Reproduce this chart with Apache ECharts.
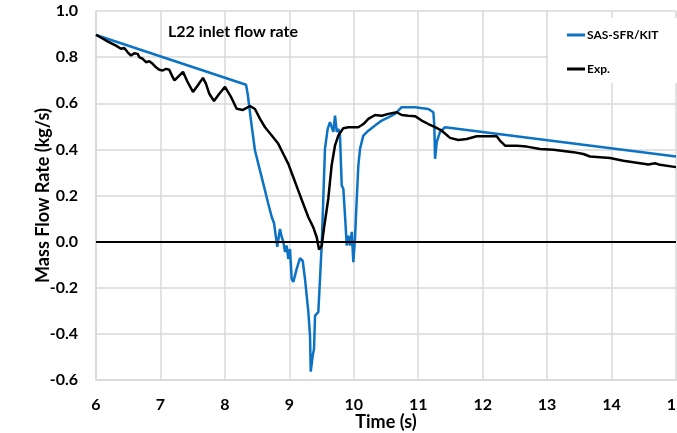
<!DOCTYPE html>
<html>
<head>
<meta charset="utf-8">
<script src="https://cdn.jsdelivr.net/npm/echarts@6/dist/echarts.min.js"></script>
<style>
  html, body { margin: 0; padding: 0; background: #fff; }
  #chart { width: 677px; height: 433px; }
</style>
</head>
<body>
<div id="chart"></div>
<script>
// SAS-SFR/KIT calculation: time (s) and L22 inlet mass flow rate (kg/s)
const sasTime = [6.000, 8.328, 8.354, 8.405, 8.467, 8.545, 8.623, 8.674, 8.727, 8.762, 8.813, 8.855, 8.882,
  8.907, 8.933, 8.959, 8.984, 9.010, 9.037, 9.062, 9.114, 9.166, 9.208, 9.243, 9.295, 9.321, 9.332,
  9.363, 9.383, 9.399, 9.425, 9.450, 9.476, 9.502, 9.527, 9.553, 9.595, 9.631, 9.658, 9.683, 9.709,
  9.736, 9.761, 9.786, 9.802, 9.813, 9.838, 9.864, 9.891, 9.916, 9.942, 9.969, 9.993, 10.019, 10.046,
  10.071, 10.097, 10.148, 10.226, 10.330, 10.434, 10.536, 10.640, 10.744, 10.846, 10.950, 11.157,
  11.235, 11.250, 11.261, 11.288, 11.338, 11.416, 15.000];
const sasFlow = [0.896, 0.680, 0.640, 0.525, 0.395, 0.308, 0.221, 0.163, 0.107, 0.081, -0.023, 0.055, 0.020,
  -0.001, -0.045, -0.017, -0.075, -0.032, -0.162, -0.175, -0.118, -0.072, -0.084, -0.162, -0.305, -0.408, -0.564,
  -0.494, -0.465, -0.321, -0.314, -0.305, -0.162, -0.017, 0.185, 0.402, 0.489, 0.518, 0.525, 0.476, 0.546,
  0.476, 0.489, 0.460, 0.330, 0.243, 0.229, 0.113, -0.017, 0.026, -0.017, 0.042, -0.089, 0.012, 0.185,
  0.330, 0.402, 0.460, 0.481, 0.503, 0.525, 0.539, 0.554, 0.583, 0.583, 0.583, 0.575,
  0.561, 0.503, 0.359, 0.432, 0.476, 0.496, 0.369];

// Experiment: time (s) and measured mass flow rate (kg/s)
const expTime = [6.000, 6.155, 6.310, 6.388, 6.439, 6.492, 6.543, 6.594, 6.647, 6.672, 6.725, 6.776, 6.827,
  6.880, 6.931, 6.982, 7.035, 7.086, 7.137, 7.190, 7.218, 7.272, 7.350, 7.423, 7.505, 7.578, 7.660,
  7.707, 7.758, 7.831, 7.910, 8.002, 8.090, 8.183, 8.281, 8.390, 8.467, 8.545, 8.623, 8.727, 8.829,
  8.907, 8.984, 9.062, 9.139, 9.217, 9.295, 9.372, 9.425, 9.461, 9.502, 9.543, 9.604, 9.656, 9.708,
  9.760, 9.838, 9.916, 10.071, 10.149, 10.226, 10.330, 10.434, 10.536, 10.666, 10.744, 10.846, 10.950,
  11.054, 11.157, 11.261, 11.365, 11.494, 11.623, 11.753, 11.908, 12.063, 12.218, 12.268, 12.347,
  12.529, 12.684, 12.890, 13.097, 13.408, 13.563, 13.666, 13.821, 13.976, 14.183, 14.442, 14.571,
  14.675, 14.752, 15.000];
const expFlow = [0.897, 0.872, 0.850, 0.836, 0.840, 0.821, 0.807, 0.817, 0.814, 0.800, 0.792, 0.778, 0.782,
  0.771, 0.756, 0.745, 0.742, 0.749, 0.745, 0.713, 0.699, 0.714, 0.736, 0.691, 0.649, 0.677, 0.710,
  0.684, 0.641, 0.610, 0.640, 0.671, 0.630, 0.576, 0.571, 0.588, 0.575, 0.532, 0.496, 0.460, 0.424,
  0.380, 0.337, 0.279, 0.221, 0.163, 0.106, 0.062, 0.019, -0.034, -0.019, 0.069, 0.185, 0.330, 0.416,
  0.460, 0.492, 0.496, 0.496, 0.510, 0.532, 0.549, 0.546, 0.554, 0.561, 0.549, 0.546, 0.544,
  0.525, 0.510, 0.496, 0.481, 0.450, 0.441, 0.445, 0.457, 0.457, 0.457, 0.438, 0.416,
  0.416, 0.412, 0.402, 0.398, 0.388, 0.380, 0.369, 0.366, 0.363, 0.351, 0.340, 0.334,
  0.340, 0.333, 0.323];

const seriesNames = ['SAS-SFR/KIT', 'Exp.'];
const titleText = 'L22 inlet flow rate';
const xAxisName = 'Time (s)';
const yAxisName = 'Mass Flow Rate (kg/s)';
const xTicks = [6, 7, 8, 9, 10, 11, 12, 13, 14, 15];
const yTicks = [-0.6, -0.4, -0.2, 0.0, 0.2, 0.4, 0.6, 0.8, 1.0];

const zip = (xs, ys) => xs.map((x, i) => [x, ys[i]]);
const FONT = 'Lato';
const GRID_COLOR = '#d9d9d9';

const chart = echarts.init(document.getElementById('chart'), null, { renderer: 'canvas' });
chart.setOption({
  animation: false,
  backgroundColor: '#fff',
  textStyle: { fontFamily: FONT },
  title: {
    text: titleText,
    left: 168, top: 24, padding: 0,
    textStyle: { fontFamily: FONT, fontSize: 16, fontWeight: 'bold', color: '#000' }
  },
  legend: {
    data: seriesNames,
    orient: 'vertical',
    left: 548, top: 18,
    padding: [10, 23, 7, 19],
    backgroundColor: '#fff',
    itemGap: 20,
    itemWidth: 18, itemHeight: 3,
    icon: 'rect',
    textStyle: { fontFamily: FONT, fontSize: 12, fontWeight: 'bold', color: '#000', lineHeight: 14, padding: [0, 0, 0, -3] }
  },
  grid: { left: 96, right: 1, top: 11, bottom: 53, containLabel: false, outerBoundsMode: 'none' },
  xAxis: {
    type: 'value',
    min: xTicks[0], max: xTicks[xTicks.length - 1], interval: 1,
    name: xAxisName, nameLocation: 'middle', nameGap: 33, nameMoveOverlap: false,
    nameTextStyle: { fontFamily: FONT, fontSize: 18, fontWeight: 'bold', color: '#000' },
    axisLine: { show: true, onZero: false, lineStyle: { color: GRID_COLOR, width: 1.5 } },
    axisTick: { show: false },
    axisLabel: { margin: 17, fontFamily: FONT, fontSize: 16, fontWeight: 'bold', color: '#000' },
    splitLine: { show: true, lineStyle: { color: GRID_COLOR, width: 1.5 } }
  },
  yAxis: {
    type: 'value',
    min: yTicks[0], max: yTicks[yTicks.length - 1], interval: 0.2,
    name: yAxisName, nameLocation: 'middle', nameGap: 44, nameMoveOverlap: false,
    nameTextStyle: { fontFamily: FONT, fontSize: 18, fontWeight: 'bold', color: '#000' },
    axisLine: { show: true, lineStyle: { color: GRID_COLOR, width: 1.5 } },
    axisTick: { show: false },
    axisLabel: {
      margin: 18, fontFamily: FONT, fontSize: 16, fontWeight: 'bold', color: '#000',
      formatter: v => (Math.abs(v) < 1e-9 ? 0 : v).toFixed(1)
    },
    splitLine: { show: true, lineStyle: { color: GRID_COLOR, width: 1.5 } }
  },
  series: [
    {
      name: seriesNames[0],
      type: 'line',
      data: zip(sasTime, sasFlow),
      showSymbol: false,
      color: '#0b72c4',
      lineStyle: { color: '#0b72c4', width: 2.5 },
      z: 3
    },
    {
      name: seriesNames[1],
      type: 'line',
      data: zip(expTime, expFlow),
      showSymbol: false,
      color: '#000',
      lineStyle: { color: '#000', width: 2.5 },
      z: 4,
      markLine: {
        silent: true,
        symbol: 'none',
        label: { show: false },
        lineStyle: { color: '#000', width: 2, type: 'solid' },
        data: [{ yAxis: 0 }]
      }
    }
  ]
});
</script>
</body>
</html>
